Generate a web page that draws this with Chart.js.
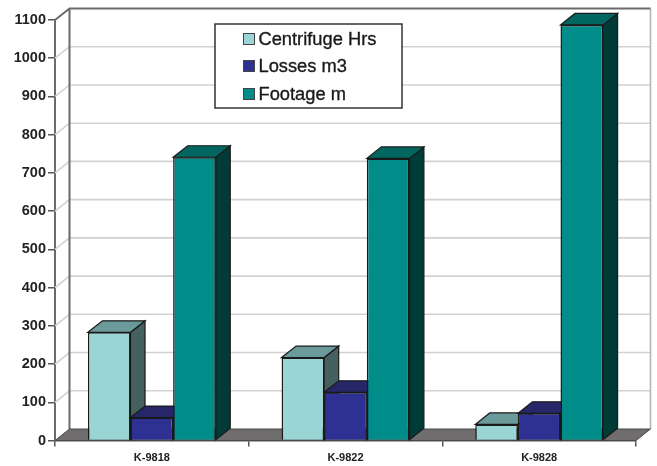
<!DOCTYPE html>
<html>
<head>
<meta charset="utf-8">
<title>Centrifuge hours, losses and footage by well</title>
<script src="https://cdn.jsdelivr.net/npm/chart.js@4/dist/chart.umd.min.js"></script>
<style>
    html, body { margin: 0; padding: 0; background: #fff; }
    #wrap { width: 657px; height: 466px; }
</style>
</head>
<body>
<div id="wrap"><canvas id="wellChart" width="657" height="466"></canvas></div>
<script>
const wells = ['K-9818', 'K-9822', 'K-9828'];
const centrifugeHrs = [283, 217, 42];
const lossesM3 = [60, 126, 71];
const footageM = [741, 738, 1087];

const seriesNames = ['Centrifuge Hrs', 'Losses m3', 'Footage m'];
const frontColors = ['#9ad5d6', '#2e3192', '#008c88'];
const topColors = ['#6b9a9b', '#272668', '#00665f'];
const sideColors = ['#44615f', '#1f1f55', '#003b38'];

// Offset of the back of the 3D box
const depthX = 14.5;
const depthY = 11.5;

function polygon(ctx, pts, fill, stroke, lineWidth) {
    ctx.beginPath();
    ctx.moveTo(pts[0][0], pts[0][1]);
    for (let i = 1; i < pts.length; i++) ctx.lineTo(pts[i][0], pts[i][1]);
    ctx.closePath();
    ctx.fillStyle = fill;
    ctx.fill();
    ctx.strokeStyle = stroke;
    ctx.lineWidth = lineWidth;
    ctx.stroke();
}

// Back wall, left wall and floor
const wallsPlugin = {
    id: 'walls',
    beforeDatasetsDraw(chart) {
        const ctx = chart.ctx;
        const y = chart.scales.y;
        const x0 = chart.chartArea.left;
        const x1 = chart.chartArea.right;
        const bottom = y.getPixelForValue(0);
        const top = y.getPixelForValue(1100);
        ctx.save();

        // gridlines run along the back wall and down the side wall
        y.ticks.forEach(t => {
            const py = y.getPixelForValue(t.value);
            if (t.value === 0 || t.value === 1100) return;
            ctx.strokeStyle = '#d2d2d2';
            ctx.lineWidth = 1.6;
            ctx.beginPath();
            ctx.moveTo(x0, py);
            ctx.lineTo(x0 + depthX, py - depthY);
            ctx.lineTo(x1 + depthX, py - depthY);
            ctx.stroke();
        });

        ctx.strokeStyle = '#b4b4b4';
        ctx.lineWidth = 1.6;
        ctx.beginPath();
        ctx.moveTo(x1 + depthX, top - depthY);
        ctx.lineTo(x1 + depthX, bottom - depthY);
        ctx.stroke();

        ctx.strokeStyle = '#6a6a6a';
        ctx.lineWidth = 2;
        ctx.beginPath();
        ctx.moveTo(x0, top);
        ctx.lineTo(x0 + depthX, top - depthY);
        ctx.lineTo(x1 + depthX, top - depthY);
        ctx.moveTo(x0 + depthX, top - depthY);
        ctx.lineTo(x0 + depthX, bottom - depthY);
        ctx.stroke();

        polygon(ctx, [
            [x0, bottom],
            [x1, bottom],
            [x1 + depthX, bottom - depthY],
            [x0 + depthX, bottom - depthY]
        ], '#6f6d6d', '#4a4a4a', 1);

        // top and side faces, left to right so each one overlaps the previous
        chart.data.datasets.forEach((ds, i) => {
            chart.getDatasetMeta(i).data.forEach(bar => {
                const l = bar.x - bar.width / 2;
                const r = bar.x + bar.width / 2;
                polygon(ctx, [
                    [r, bar.y],
                    [r + depthX, bar.y - depthY],
                    [r + depthX, bar.base - depthY],
                    [r, bar.base]
                ], sideColors[i], '#1a1a1a', 1.2);
                polygon(ctx, [
                    [l, bar.y],
                    [l + depthX, bar.y - depthY],
                    [r + depthX, bar.y - depthY],
                    [r, bar.y]
                ], topColors[i], '#1a1a1a', 1.2);
            });
        });
        ctx.restore();
    }
};

// Boxed legend sitting over the back wall
const legendBoxPlugin = {
    id: 'legendBox',
    afterDraw(chart) {
        const ctx = chart.ctx;
        const rows = [39, 66, 94];
        ctx.save();
        ctx.fillStyle = '#fff';
        ctx.fillRect(215, 24, 187, 84);
        ctx.strokeStyle = '#333';
        ctx.lineWidth = 1.5;
        ctx.strokeRect(215, 24, 187, 84);

        ctx.font = '18.3px "Liberation Sans", Arial, sans-serif';
        ctx.textBaseline = 'middle';
        seriesNames.forEach((name, i) => {
            ctx.fillStyle = frontColors[i];
            ctx.fillRect(243.5, rows[i] - 5.5, 11, 11);
            ctx.strokeStyle = '#444';
            ctx.lineWidth = 1;
            ctx.strokeRect(243.5, rows[i] - 5.5, 11, 11);
            ctx.fillStyle = '#1a1a1a';
            ctx.fillText(name, 258.5, rows[i] + 0.5);
            // the legend text is a touch heavier than plain regular
            ctx.strokeStyle = '#1a1a1a';
            ctx.lineWidth = 0.35;
            ctx.strokeText(name, 258.5, rows[i] + 0.5);
        });
        ctx.restore();
    }
};

const ctx = document.getElementById('wellChart').getContext('2d');
const wellChart = new Chart(ctx, {
    type: 'bar',
    data: {
        labels: wells,
        datasets: [centrifugeHrs, lossesM3, footageM].map((values, i) => ({
            label: seriesNames[i],
            data: values,
            backgroundColor: frontColors[i],
            borderColor: '#1a1a1a',
            borderWidth: 1.5
        }))
    },
    options: {
        responsive: false,
        animation: false,
        layout: { padding: { top: 20, right: 21, bottom: 0, left: 0 } },
        datasets: { bar: { categoryPercentage: 0.66, barPercentage: 1 } },
        plugins: {
            legend: { display: false },
            tooltip: { enabled: false }
        },
        scales: {
            x: {
                afterFit(scale) { scale.height = 25.5; },
                border: { color: '#555', width: 1.5 },
                grid: { drawOnChartArea: false, color: '#555', tickLength: 6, lineWidth: 1.5, offset: true },
                ticks: {
                    color: '#222',
                    padding: 5,
                    font: { family: '"Liberation Sans", Arial, sans-serif', size: 11, weight: 'bold' },
                    maxRotation: 0
                }
            },
            y: {
                min: 0,
                max: 1100,
                afterFit(scale) { scale.width = 55; },
                border: { color: '#6a6a6a', width: 2 },
                grid: { drawOnChartArea: false, color: '#555', tickLength: 7, lineWidth: 1.5 },
                ticks: {
                    stepSize: 100,
                    color: '#222',
                    padding: 2,
                    callback: value => String(value),
                    font: { family: '"Liberation Sans", Arial, sans-serif', size: 14.5, weight: 'bold' }
                }
            }
        }
    },
    plugins: [wallsPlugin, legendBoxPlugin]
});
</script>
</body>
</html>
